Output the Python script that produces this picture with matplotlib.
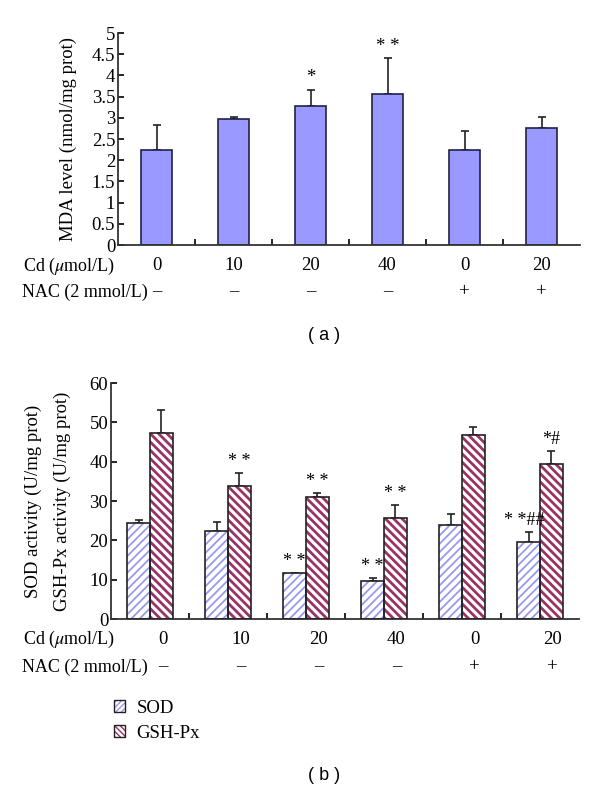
import matplotlib
matplotlib.use("Agg")
import matplotlib.pyplot as plt
import matplotlib.transforms as mtrans
from matplotlib.patches import Patch
from matplotlib.legend_handler import HandlerTuple
import numpy as np

plt.rcParams['font.family'] = ['Liberation Serif', 'DejaVu Serif']
plt.rcParams['mathtext.fontset'] = 'stix'
FS = 13.5
RFS = 13
plt.rcParams['font.size'] = FS

# ---------------- data ----------------
cd_labels = ['0', '10', '20', '40', '0', '20']
nac_labels = ['–', '–', '–', '–', '+', '+']

mda = [2.24, 2.96, 3.29, 3.57, 2.24, 2.76]
mda_err = [0.58, 0.06, 0.37, 0.84, 0.45, 0.25]
mda_marks = ['', '', '*', '* *', '', '']

sod = [24.5, 22.3, 11.6, 9.7, 24.0, 19.5]
sod_err = [0.7, 2.4, 0.1, 0.7, 2.8, 2.5]
sod_marks = ['', '', '* *', '* *', '', '* *##']

gsh = [47.4, 33.9, 31.1, 25.7, 46.7, 39.5]
gsh_err = [5.8, 3.1, 0.9, 3.2, 2.2, 3.3]
gsh_marks = ['', '* *', '* *', '* *', '', '*#']

bar_color = '#9999ff'
sod_hatch_color = '#9999ee'
gsh_hatch_color = '#993366'
edge = '#222222'

W, H = 600, 790
fig = plt.figure(figsize=(W / 100, H / 100), dpi=100)


def fx(px):
    return px / W


def fy(py):
    return 1 - py / H


def style_axes(ax, ymax, yticks, ylabels):
    n = len(cd_labels)
    ax.set_xlim(-0.5, n - 0.5)
    ax.set_ylim(0, ymax)
    for s in ['top', 'right']:
        ax.spines[s].set_visible(False)
    for s in ['left', 'bottom']:
        ax.spines[s].set_linewidth(1.3)
        ax.spines[s].set_color('#333333')
    ax.set_yticks(yticks)
    ax.set_yticklabels(ylabels)
    ax.tick_params(axis='y', direction='in', length=4, width=1.2, pad=2, labelsize=FS)
    ax.set_xticks(np.arange(0.5, n - 0.5, 1.0))
    ax.set_xticklabels([])
    ax.tick_params(axis='x', direction='in', length=4, width=1.2)


def row_labels(ax, y_cd, y_nac, shift):
    fig.text(fx(23), fy(y_cd), 'Cd ($\\mu$mol/L)', ha='left', va='center', fontsize=RFS)
    fig.text(fx(22), fy(y_nac), 'NAC (2 mmol/L)', ha='left', va='center', fontsize=RFS)
    tb = mtrans.blended_transform_factory(ax.transData, fig.transFigure)
    for i, s in enumerate(cd_labels):
        ax.text(i + shift, fy(y_cd), s, ha='center', va='center', fontsize=FS, transform=tb)
    for i, s in enumerate(nac_labels):
        ax.text(i + shift, fy(y_nac), s, ha='center', va='center', fontsize=FS, transform=tb)


x = np.arange(len(cd_labels))

# ---------------- panel a ----------------
axa = fig.add_axes([fx(118), fy(245), fx(580) - fx(118), fy(33) - fy(245)])
axa.bar(x, mda, width=0.41, color=bar_color, edgecolor='#222244', linewidth=1.2, zorder=2)
axa.errorbar(x, mda, yerr=[np.zeros(len(mda)), mda_err], fmt='none', ecolor=edge,
             elinewidth=1.2, capsize=3, capthick=1.2, zorder=1)
for i, m in enumerate(mda_marks):
    if m:
        axa.text(i, mda[i] + mda_err[i] + 0.08, m, ha='center', va='bottom', fontsize=FS)
style_axes(axa, 5, np.arange(0, 5.01, 0.5),
           ['0', '0.5', '1', '1.5', '2', '2.5', '3', '3.5', '4', '4.5', '5'])
fig.text(fx(68), (fy(245) + fy(33)) / 2, 'MDA level (nmol/mg prot)', rotation=90,
         ha='center', va='center', fontsize=FS)
row_labels(axa, 266, 292, 0.0)
fig.text(fx(324), fy(335), '( a )', ha='center', va='center', fontsize=13,
         family=['Liberation Sans', 'DejaVu Sans'])

# ---------------- panel b ----------------
axb = fig.add_axes([fx(111), fy(619), fx(579) - fx(111), fy(383) - fy(619)])
bw = 0.29
xs = x - bw / 2
xg = x + bw / 2
with plt.rc_context({'hatch.linewidth': 1.3}):
    axb.bar(xs, sod, width=bw, color='white', edgecolor=sod_hatch_color, hatch='////',
            linewidth=0, zorder=2)
with plt.rc_context({'hatch.linewidth': 2.0}):
    axb.bar(xg, gsh, width=bw, color='white', edgecolor=gsh_hatch_color, hatch='\\\\\\\\',
            linewidth=0, zorder=2)
axb.bar(xs, sod, width=bw, color='none', edgecolor=edge, linewidth=1.2, zorder=3)
axb.bar(xg, gsh, width=bw, color='none', edgecolor=edge, linewidth=1.2, zorder=3)
axb.errorbar(xs, sod, yerr=[np.zeros(len(sod)), sod_err], fmt='none', ecolor=edge,
             elinewidth=1.2, capsize=3, capthick=1.2, zorder=1)
axb.errorbar(xg, gsh, yerr=[np.zeros(len(gsh)), gsh_err], fmt='none', ecolor=edge,
             elinewidth=1.2, capsize=3, capthick=1.2, zorder=1)
for i, m in enumerate(sod_marks):
    if m:
        off = -0.06 if '#' in m else 0
        axb.text(xs[i] + off, sod[i] + sod_err[i] + 0.8, m, ha='center', va='bottom', fontsize=13)
for i, m in enumerate(gsh_marks):
    if m:
        axb.text(xg[i], gsh[i] + gsh_err[i] + 0.8, m, ha='center', va='bottom', fontsize=13)
style_axes(axb, 60, np.arange(0, 61, 10), [str(v) for v in range(0, 61, 10)])
fig.text(fx(33), (fy(619) + fy(383)) / 2, 'SOD activity (U/mg prot)', rotation=90,
         ha='center', va='center', fontsize=FS)
fig.text(fx(62), (fy(619) + fy(383)) / 2, 'GSH-Px activity (U/mg prot)', rotation=90,
         ha='center', va='center', fontsize=FS)
row_labels(axb, 639, 667, 0.16)

with plt.rc_context({'hatch.linewidth': 1.0}):
    h1 = Patch(facecolor='white', edgecolor=sod_hatch_color, hatch='//////', linewidth=0)
    h2 = Patch(facecolor='white', edgecolor=gsh_hatch_color, hatch='\\\\\\\\\\\\', linewidth=0)
b1 = Patch(facecolor='none', edgecolor=edge, linewidth=1.0)
b2 = Patch(facecolor='none', edgecolor=edge, linewidth=1.0)
fig.legend([(h1, b1), (h2, b2)], ['SOD', 'GSH-Px'], loc='upper left',
           handler_map={tuple: HandlerTuple(ndivide=1, pad=0)},
           bbox_to_anchor=(fx(99), fy(685)), frameon=False, fontsize=FS,
           handlelength=0.6, handleheight=0.6, handletextpad=0.6, labelspacing=0.4,
           borderpad=0.3)

fig.text(fx(324), fy(775), '( b )', ha='center', va='center', fontsize=13,
         family=['Liberation Sans', 'DejaVu Sans'])

fig.savefig('out.png', dpi=100)
